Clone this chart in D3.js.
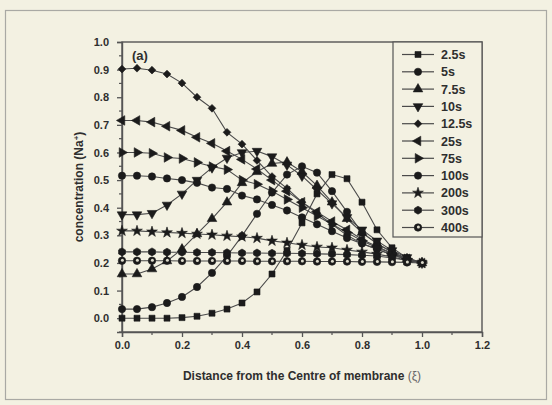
<!DOCTYPE html>
<html>
<head>
<meta charset="utf-8">
<script src="https://cdn.jsdelivr.net/npm/d3@7"></script>
<style>
  html, body { margin: 0; padding: 0; background: #f3f1e2; }
  svg { display: block; }
  text { font-family: "Liberation Sans", Arial, sans-serif; font-weight: bold; fill: #2e2e2e; }
</style>
</head>
<body>
<svg id="chart" width="552" height="405"></svg>
<script>
// Dimensionless distance from the membrane centre
const xi = [0, 0.05, 0.1, 0.15, 0.2, 0.25, 0.3, 0.35, 0.4, 0.45, 0.5,
            0.55, 0.6, 0.65, 0.7, 0.75, 0.8, 0.85, 0.9, 0.95, 1.0];

const seriesNames = ["2.5s", "5s", "7.5s", "10s", "12.5s", "25s", "75s", "100s", "200s", "300s", "400s"];

const c2_5s = [0.0, 0.0, 0.0, 0.0, 0.002, 0.007, 0.018, 0.033, 0.055, 0.095, 0.16,
               0.245, 0.345, 0.45, 0.52, 0.505, 0.42, 0.32, 0.255, 0.218, 0.2];
const c5s   = [0.033, 0.033, 0.04, 0.055, 0.077, 0.113, 0.164, 0.225, 0.298, 0.378, 0.455,
               0.52, 0.55, 0.527, 0.46, 0.385, 0.31, 0.27, 0.24, 0.215, 0.2];
const c7_5s = [0.16, 0.16, 0.178, 0.207, 0.25, 0.305, 0.36, 0.42, 0.49, 0.53, 0.56,
               0.565, 0.53, 0.48, 0.42, 0.36, 0.31, 0.27, 0.24, 0.215, 0.2];
const c10s  = [0.375, 0.375, 0.38, 0.41, 0.45, 0.5, 0.545, 0.58, 0.6, 0.605, 0.585,
               0.555, 0.515, 0.465, 0.415, 0.365, 0.32, 0.28, 0.245, 0.22, 0.2];
const c12_5s = [0.902, 0.905, 0.898, 0.884, 0.851, 0.8, 0.76, 0.673, 0.63, 0.571, 0.513,
                0.47, 0.42, 0.38, 0.34, 0.3, 0.27, 0.25, 0.23, 0.213, 0.2];
const c25s  = [0.716, 0.716, 0.71, 0.695, 0.68, 0.655, 0.633, 0.605, 0.575, 0.54, 0.5,
               0.46, 0.42, 0.385, 0.35, 0.32, 0.285, 0.26, 0.235, 0.215, 0.2];
const c75s  = [0.6, 0.6, 0.597, 0.582, 0.578, 0.564, 0.549, 0.538, 0.5, 0.485, 0.46,
               0.43, 0.4, 0.37, 0.34, 0.31, 0.28, 0.255, 0.235, 0.215, 0.2];
const c100s = [0.516, 0.516, 0.513, 0.506, 0.5, 0.49, 0.473, 0.468, 0.444, 0.43, 0.41,
               0.39, 0.365, 0.34, 0.315, 0.29, 0.27, 0.25, 0.23, 0.213, 0.2];
const c200s = [0.316, 0.316, 0.313, 0.31, 0.308, 0.305, 0.302, 0.298, 0.295, 0.29, 0.28,
               0.273, 0.265, 0.258, 0.255, 0.247, 0.24, 0.232, 0.222, 0.21, 0.2];
const c300s = [0.24, 0.24, 0.24, 0.239, 0.239, 0.238, 0.238, 0.237, 0.236, 0.236, 0.235,
               0.235, 0.234, 0.233, 0.232, 0.23, 0.228, 0.225, 0.218, 0.21, 0.2];
const c400s = [0.208, 0.208, 0.208, 0.208, 0.207, 0.207, 0.207, 0.207, 0.207, 0.206, 0.206,
               0.206, 0.206, 0.205, 0.205, 0.205, 0.204, 0.204, 0.203, 0.202, 0.2];

const seriesValues = [c2_5s, c5s, c7_5s, c10s, c12_5s, c25s, c75s, c100s, c200s, c300s, c400s];

const xTicks = [0.0, 0.2, 0.4, 0.6, 0.8, 1.0, 1.2];
const yTicks = [0.0, 0.1, 0.2, 0.3, 0.4, 0.5, 0.6, 0.7, 0.8, 0.9, 1.0];

const svg = d3.select("#chart");
const m = { left: 122, right: 482, top: 42, bottom: 332 };

// outer frame
svg.append("rect").attr("x", 5.5).attr("y", 10.5).attr("width", 541).attr("height", 389)
  .attr("fill", "#f3f1e2").attr("stroke", "#a9a9a4").attr("stroke-width", 1.2);

const x = d3.scaleLinear().domain([0, 1.2]).range([m.left, m.right]);
const y = d3.scaleLinear().domain([-0.05, 1.0]).range([m.bottom, m.top]);

// plot frame
svg.append("rect").attr("x", m.left).attr("y", m.top)
  .attr("width", m.right - m.left).attr("height", m.bottom - m.top)
  .attr("fill", "none").attr("stroke", "#555").attr("stroke-width", 1.4);

// axes
const xAxis = d3.axisBottom(x).tickValues(xTicks).tickFormat(d3.format(".1f")).tickSize(5).tickPadding(4);
const gx = svg.append("g").attr("transform", `translate(0,${m.bottom})`).call(xAxis);
const yAxis = d3.axisLeft(y).tickValues(yTicks).tickFormat(d3.format(".1f")).tickSize(5).tickPadding(8);
const gy = svg.append("g").attr("transform", `translate(${m.left},0)`).call(yAxis);
[gx, gy].forEach(g => {
  g.select(".domain").attr("stroke", "#555").attr("stroke-width", 1.4);
  g.selectAll(".tick line").attr("stroke", "#555").attr("stroke-width", 1.3);
  g.selectAll(".tick text").attr("font-size", 11).attr("font-family", "Liberation Sans, Arial, sans-serif")
    .attr("font-weight", "bold").attr("fill", "#3a3a3a");
});
// minor ticks
const xMinor = d3.range(0.1, 1.2, 0.2);
svg.append("g").selectAll("line").data(xMinor).join("line")
  .attr("x1", d => x(d)).attr("x2", d => x(d)).attr("y1", m.bottom).attr("y2", m.bottom + 3)
  .attr("stroke", "#555").attr("stroke-width", 1.2);
const yMinor = d3.range(-0.05, 1.0, 0.1);
svg.append("g").selectAll("line").data(yMinor).join("line")
  .attr("x1", m.left - 3).attr("x2", m.left).attr("y1", d => y(d)).attr("y2", d => y(d))
  .attr("stroke", "#555").attr("stroke-width", 1.2);

// marker shapes
const tri = d3.symbol().type(d3.symbolTriangle).size(40)();
const circ = d3.symbol().type(d3.symbolCircle).size(42)();
const shapes = [
  { path: d3.symbol().type(d3.symbolSquare).size(36)(), rot: 0 },
  { path: circ, rot: 0 },
  { path: tri, rot: 0 },
  { path: tri, rot: 180 },
  { path: d3.symbol().type(d3.symbolSquare).size(30)(), rot: 45 },
  { path: tri, rot: -90 },
  { path: tri, rot: 90 },
  { path: circ, rot: 0 },
  { path: d3.symbol().type(d3.symbolStar).size(36)(), rot: 0 },
  { path: null, rot: 0 },
  { path: d3.symbol().type(d3.symbolCircle).size(44)(), rot: 0, hollow: true }
];
// hexagon for the 300s series
shapes[9].path = (() => {
  const r = 4, pts = d3.range(6).map(i => {
    const a = Math.PI / 6 + i * Math.PI / 3;
    return [r * Math.cos(a), r * Math.sin(a)];
  });
  return "M" + pts.map(p => p.join(",")).join("L") + "Z";
})();

function drawMarker(g, i, cx, cy) {
  const s = shapes[i];
  g.append("path").attr("d", s.path)
    .attr("transform", `translate(${cx},${cy}) rotate(${s.rot})`)
    .attr("fill", "#1b1b1b").attr("stroke", "#1b1b1b").attr("stroke-width", 0.6);
  if (s.hollow) {
    g.append("circle").attr("cx", cx + 0.4).attr("cy", cy - 0.4).attr("r", 1.5).attr("fill", "#dcdacb");
  }
}

const line = d3.line().x((d, i) => x(xi[i])).y(d => y(d));
const plot = svg.append("g");
seriesValues.forEach(vals => {
  plot.append("path").datum(vals).attr("d", line)
    .attr("fill", "none").attr("stroke", "#4a4a4a").attr("stroke-width", 1.1);
});
seriesValues.forEach((vals, si) => {
  const g = plot.append("g");
  vals.forEach((v, i) => drawMarker(g, si, x(xi[i]), y(v)));
});

// legend
const lg = svg.append("g");
const lgX = 393, lgY = 42, lgW = 89, lgH = 195;
lg.append("rect").attr("x", lgX).attr("y", lgY).attr("width", lgW).attr("height", lgH)
  .attr("fill", "#f3f1e2").attr("stroke", "#555").attr("stroke-width", 1.2);
seriesNames.forEach((name, i) => {
  const ry = 54.5 + i * 17.3;
  lg.append("line").attr("x1", 402).attr("x2", 434).attr("y1", ry).attr("y2", ry)
    .attr("stroke", "#4a4a4a").attr("stroke-width", 1.2);
  drawMarker(lg, i, 418, ry);
  lg.append("text").attr("x", 441).attr("y", ry + 4.5).attr("font-size", 12.5).text(name);
});

// panel tag
svg.append("text").attr("x", 132).attr("y", 60).attr("font-size", 13).text("(a)");

// axis titles
const yt = svg.append("text").attr("transform", `translate(83,${(m.top + m.bottom) / 2}) rotate(-90)`)
  .attr("text-anchor", "middle").attr("font-size", 12);
yt.append("tspan").text("concentration (Na");
yt.append("tspan").attr("baseline-shift", "super").attr("font-size", 8).text("+");
yt.append("tspan").text(")");

const xt = svg.append("text").attr("x", 302).attr("y", 380).attr("text-anchor", "middle").attr("font-size", 12);
xt.append("tspan").text("Distance from the Centre of membrane ");
xt.append("tspan").attr("font-weight", "normal").attr("fill", "#666").text("(ξ)");
</script>
</body>
</html>
